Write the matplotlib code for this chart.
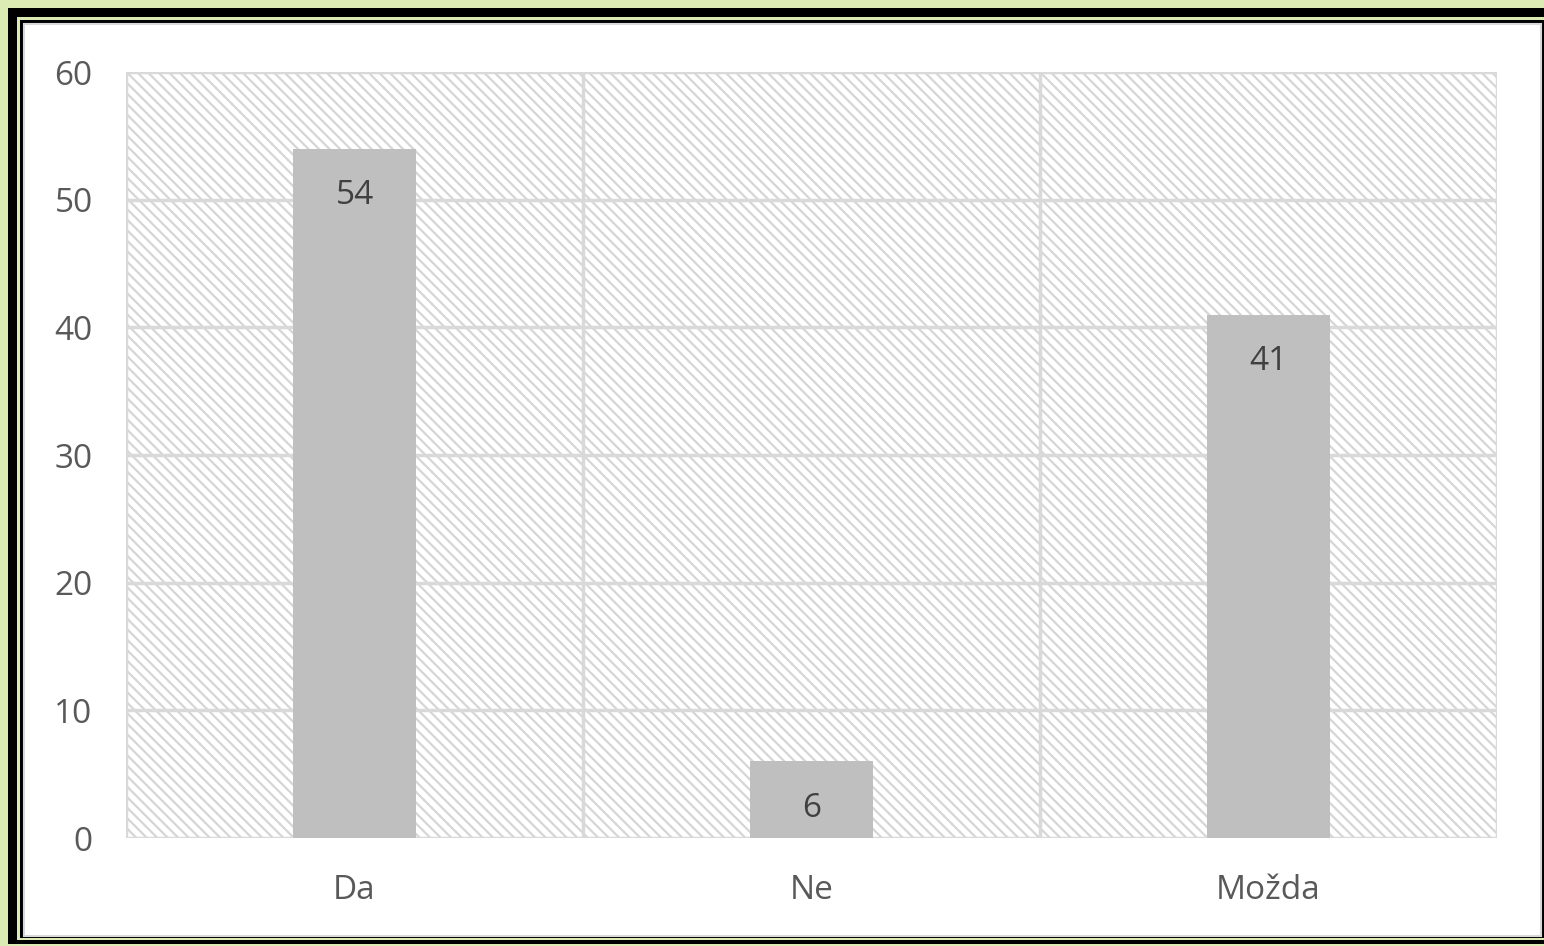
import matplotlib
matplotlib.use("Agg")
import matplotlib.pyplot as plt
from matplotlib.patches import Rectangle
from matplotlib.collections import LineCollection
import numpy as np

categories = ["Da", "Ne", "Možda"]
values = [54, 6, 41]
yticks = [0, 10, 20, 30, 40, 50, 60]

plt.rcParams['font.family'] = ['Open Sans', 'DejaVu Sans']

W, H = 1544, 946
fig = plt.figure(figsize=(W/100, H/100), dpi=100, facecolor='#dcebb4')

def fx(x): return x / W
def fy(y): return 1 - y / H

# Frame: black thick border, green gap, thin black line, white panel
fig.patches.append(Rectangle((fx(8), fy(944)), fx(1544 - 8 + 20), (944 - 8) / H,
                             transform=fig.transFigure, facecolor='black', edgecolor='none', zorder=-10))
fig.patches.append(Rectangle((fx(17), fy(940)), fx(1544), (940 - 17) / H,
                             transform=fig.transFigure, facecolor='#dcebb4', edgecolor='none', zorder=-9))
fig.patches.append(Rectangle((fx(20), fy(938)), fx(1544), (938 - 20) / H,
                             transform=fig.transFigure, facecolor='black', edgecolor='none', zorder=-8))
fig.patches.append(Rectangle((fx(24), fy(936)), fx(1541 - 24), (936 - 24) / H,
                             transform=fig.transFigure, facecolor='white', edgecolor='#d8d8d8',
                             linewidth=1.5, zorder=-7))

left, right, top, bottom = 126, 1497, 72, 838
aw, ah = right - left, bottom - top
ax = fig.add_axes([fx(left), fy(bottom), fx(aw), ah / H])
ax.set_facecolor('white')

# diagonal pattern fill of the plot area (decorative background)
spacing = 10.5
starts = np.arange(-ah, aw + spacing, spacing) / aw
segs = [[(s, 1.0), (s + ah / aw, 0.0)] for s in starts]
lc = LineCollection(segs, transform=ax.transAxes, colors='#d6d6d6', linewidths=1.6, zorder=0)
ax.add_collection(lc)

x = list(range(len(categories)))
ax.set_xlim(-0.5, len(categories) - 0.5)
ax.set_ylim(0, 60)
bars = ax.bar(x, values, width=0.27, color='#bfbfbf', zorder=3)

for xi, v in zip(x, values):
    ax.annotate(str(v), (xi, v), xytext=(0, -22), textcoords='offset points',
                ha='center', va='top', fontsize=24, color='#404040', zorder=4)

ax.set_yticks(yticks)
ax.set_xticks(x)
ax.set_xticklabels(categories)
ax.grid(False)
for yv in yticks:
    ax.axhline(yv, color='#d9d9d9', linewidth=2.5, zorder=1)
for xv in [-0.5, 0.5, 1.5, 2.5]:
    ax.axvline(xv, color='#d9d9d9', linewidth=2.5, zorder=1)

for s in ax.spines.values():
    s.set_visible(False)
ax.tick_params(axis='both', which='both', length=0, labelsize=24, labelcolor='#595959')
ax.tick_params(axis='y', pad=24)
ax.tick_params(axis='x', pad=26)

fig.savefig('out.png', dpi=100, facecolor=fig.get_facecolor())
